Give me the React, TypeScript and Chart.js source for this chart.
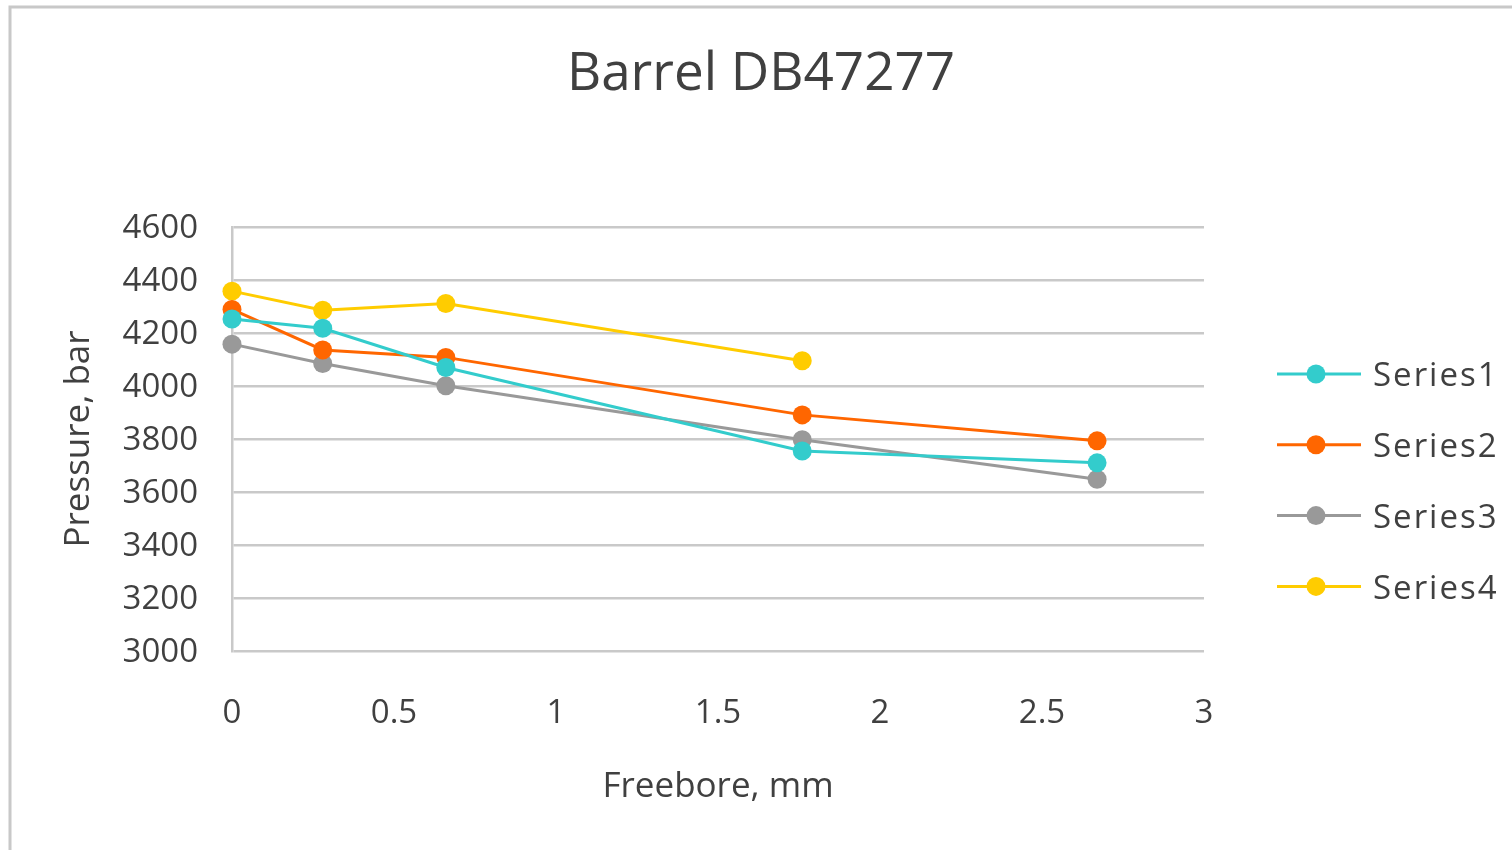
import React, { useEffect, useRef } from "react";
import { Chart, registerables } from "chart.js";

Chart.register(...registerables);

const chartTitle = "Barrel DB47277";
const xAxisTitle = "Freebore, mm";
const yAxisTitle = "Pressure, bar";

const freebore = [0, 0.28, 0.66, 1.76, 2.67];
const series1 = [4253, 4218, 4070, 3755, 3710];
const series2 = [4289, 4136, 4108, 3891, 3793];
const series3 = [4158, 4085, 4001, 3797, 3648];
const series4 = [4358, 4286, 4311, 4095];

const seriesNames = ["Series1", "Series2", "Series3", "Series4"];
const seriesValues = [series1, series2, series3, series4];
const seriesColors = ["#33CCCC", "#FF6600", "#999999", "#FFCC00"];

const xMin = 0;
const xMax = 3;
const xStep = 0.5;
const yMin = 3000;
const yMax = 4600;
const yStep = 200;

const FONT = "'Open Sans', 'Noto Sans', sans-serif";
const TEXT = "#404040";
const GRID = "#c9c9c9";

const framePlugin = {
  id: "frame",
  beforeDraw(chart: any) {
    const ctx = chart.ctx;
    ctx.save();
    ctx.fillStyle = "#ffffff";
    ctx.fillRect(0, 0, chart.width, chart.height);
    ctx.strokeStyle = "#c8c8c8";
    ctx.lineWidth = 3;
    ctx.strokeRect(10, 7, chart.width + 20, chart.height + 20);
    ctx.restore();
  },
};

const legendPlugin = {
  id: "sideLegend",
  afterDraw(chart: any) {
    const ctx = chart.ctx;
    ctx.save();
    chart.data.datasets.forEach((ds: any, i: number) => {
      const y = 374 + i * 70.8;
      ctx.strokeStyle = ds.borderColor;
      ctx.lineWidth = 3;
      ctx.beginPath();
      ctx.moveTo(1277, y);
      ctx.lineTo(1361, y);
      ctx.stroke();
      ctx.fillStyle = ds.backgroundColor;
      ctx.beginPath();
      ctx.arc(1316, y, 9.5, 0, Math.PI * 2);
      ctx.fill();
      ctx.fillStyle = TEXT;
      ctx.font = `33px ${FONT}`;
      ctx.textBaseline = "middle";
      ctx.textAlign = "left";
      try {
        (ctx as any).letterSpacing = "2px";
      } catch (e) {}
      ctx.fillText(ds.label, 1373, y + 3);
    });
    ctx.restore();
  },
};

export default function App() {
  const canvasRef = useRef<HTMLCanvasElement | null>(null);

  useEffect(() => {
    document.body.style.margin = "0";
    document.body.style.overflow = "hidden";
    const canvas = canvasRef.current!;
    const datasets = seriesValues.map((vals, i) => ({
      label: seriesNames[i],
      data: vals.map((v, j) => ({ x: freebore[j], y: v })),
      borderColor: seriesColors[i],
      backgroundColor: seriesColors[i],
      pointBackgroundColor: seriesColors[i],
      pointBorderColor: seriesColors[i],
      borderWidth: 3,
      pointRadius: 9.5,
      pointBorderWidth: 0,
      showLine: true,
      tension: 0,
      clip: false as any,
    }));

    const chart = new Chart(canvas, {
      type: "scatter",
      data: { datasets },
      plugins: [framePlugin, legendPlugin],
      options: {
        animation: false,
        responsive: false,
        devicePixelRatio: 1,
        layout: { padding: { left: 10, right: 0, top: 0, bottom: 0 } },
        plugins: {
          legend: { display: false },
          tooltip: { enabled: false },
          title: {
            display: true,
            text: chartTitle,
            color: TEXT,
            font: { family: FONT, size: 53, weight: "normal", lineHeight: 1 },
            padding: { top: 48, bottom: 126 },
          },
        },
        scales: {
          x: {
            type: "linear",
            position: "bottom",
            min: xMin,
            max: xMax,
            ticks: {
              stepSize: xStep,
              color: TEXT,
              font: { family: FONT, size: 33 },
              padding: 43,
              callback: (v: any) => String(v),
            },
            grid: { display: false, drawTicks: false },
            border: { display: false },
            title: {
              display: true,
              text: xAxisTitle,
              color: TEXT,
              font: { family: FONT, size: 35 },
              padding: { top: 0, bottom: 42 },
            },
            afterFit: (scale: any) => {
              scale.height = 199;
            },
          },
          y: {
            type: "linear",
            position: "left",
            min: yMin,
            max: yMax,
            ticks: {
              stepSize: yStep,
              color: TEXT,
              font: { family: FONT, size: 33 },
              padding: 34,
              labelOffset: 2,
              callback: (v: any) => String(v),
            },
            grid: { color: GRID, lineWidth: 2.5, drawTicks: false },
            border: { display: true, color: GRID, width: 2.5 },
            title: {
              display: true,
              text: yAxisTitle,
              color: TEXT,
              font: { family: FONT, size: 35 },
              padding: { top: 48, bottom: 0 },
            },
            afterFit: (scale: any) => {
              scale.width = 222;
            },
          },
          yRight: {
            type: "linear",
            position: "right",
            display: true,
            ticks: { display: false },
            grid: { display: false, drawTicks: false },
            border: { display: false },
            afterFit: (scale: any) => {
              scale.width = 308;
            },
          },
        },
      } as any,
    });
    return () => chart.destroy();
  }, []);

  return (
    <div style={{ position: "fixed", left: 0, top: 0, width: 1512, height: 850, background: "#fff" }}>
      <canvas ref={canvasRef} width={1512} height={850} style={{ width: 1512, height: 850, display: "block" }} />
    </div>
  );
}
